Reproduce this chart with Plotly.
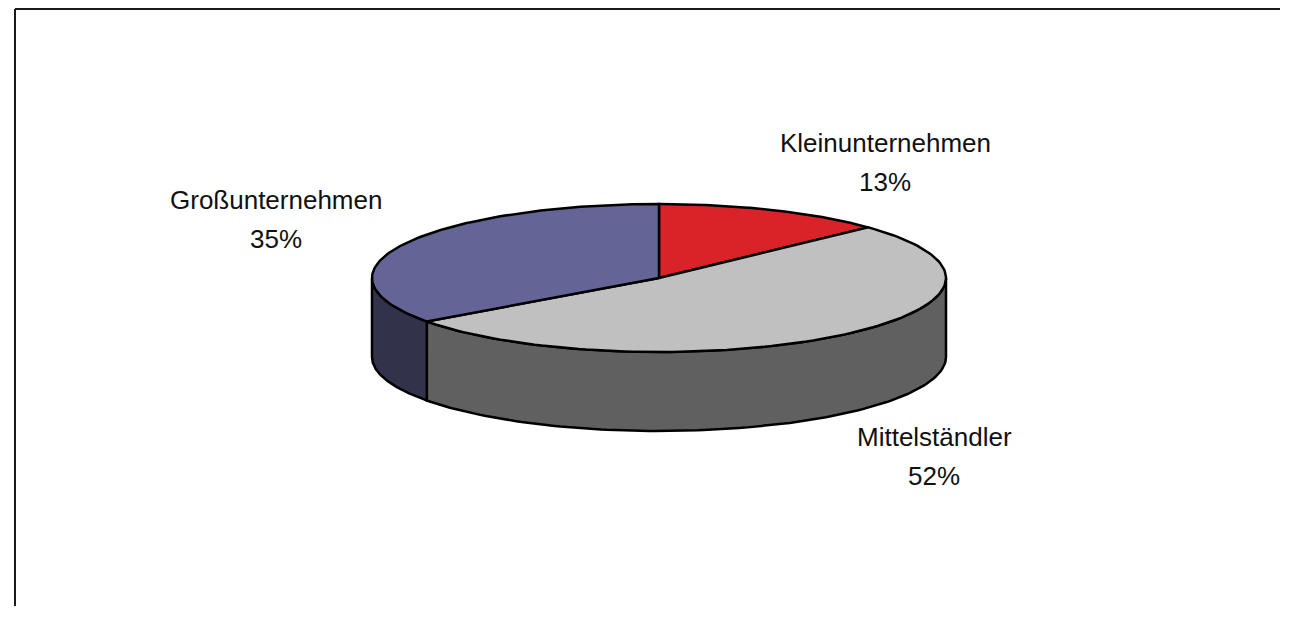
import numpy as np
import plotly.graph_objects as go

# Data: share of companies by size
labels = ['Kleinunternehmen', 'Mittelständler', 'Großunternehmen']
values = [13, 52, 35]
top_colors = ['#DA2229', '#C0C0C0', '#646496']
side_colors = ['#6D1115', '#606060', '#32324B']

# label anchor positions (pixel coords of the first text line)
label_x = [885, 934, 276]
label_y = [143, 437, 200]

# geometry of the tilted pie (pixels)
cx, cy = 659, 278
rx, ry = 287, 74
depth = 79

# visible canvas in page pixels (the page body keeps an 8px margin)
X0, X1 = 8, 1280
Y0, Y1 = 8, 606


def rim(a0, a1, dy=0, n=120):
    t = np.radians(np.linspace(a0, a1, n))
    return cx + rx * np.sin(t), cy - ry * np.cos(t) + dy


fig = go.Figure()

total = sum(values)
angles = np.concatenate([[0], np.cumsum(values) / total * 360])

# side walls (only the front half, 90..270 deg, is visible)
for i in range(len(values)):
    s = max(angles[i], 90)
    e = min(angles[i + 1], 270)
    if e <= s:
        continue
    xt, yt = rim(s, e)
    xb, yb = rim(e, s, depth)
    fig.add_trace(go.Scatter(
        x=np.concatenate([xt, xb, xt[:1]]),
        y=np.concatenate([yt, yb, yt[:1]]),
        fill='toself', fillcolor=side_colors[i], mode='lines',
        line=dict(color='black', width=2.5), hoverinfo='skip', showlegend=False))

# top faces
for i in range(len(values)):
    xa, ya = rim(angles[i], angles[i + 1])
    fig.add_trace(go.Scatter(
        x=np.concatenate([[cx], xa, [cx]]),
        y=np.concatenate([[cy], ya, [cy]]),
        fill='toself', fillcolor=top_colors[i], mode='lines',
        line=dict(color='black', width=2.5), hoverinfo='skip', showlegend=False))

# data labels
font = dict(family='Arial, Liberation Sans, sans-serif', size=26, color='#111111')
for i in range(len(values)):
    fig.add_annotation(x=label_x[i], y=label_y[i], text=labels[i],
                       showarrow=False, font=font, xanchor='center', yanchor='middle')
    fig.add_annotation(x=label_x[i], y=label_y[i] + 39,
                       text=f'{round(values[i] / total * 100)}%',
                       showarrow=False, font=font, xanchor='center', yanchor='middle')

# chart border (only left and top edges fall inside the picture)
fig.add_shape(type='line', x0=15, y0=9, x1=X1 + 20, y1=9,
              line=dict(color='#1a1a1a', width=2))
fig.add_shape(type='line', x0=15, y0=9, x1=15, y1=Y1 + 20,
              line=dict(color='#1a1a1a', width=2))

fig.update_xaxes(range=[X0, X1], visible=False, fixedrange=True)
fig.update_yaxes(range=[Y1, Y0], visible=False, fixedrange=True)
fig.update_layout(width=X1 - X0, height=Y1 - Y0,
                  margin=dict(l=0, r=0, t=0, b=0),
                  plot_bgcolor='white', paper_bgcolor='white')

fig.write_html("out.html")
